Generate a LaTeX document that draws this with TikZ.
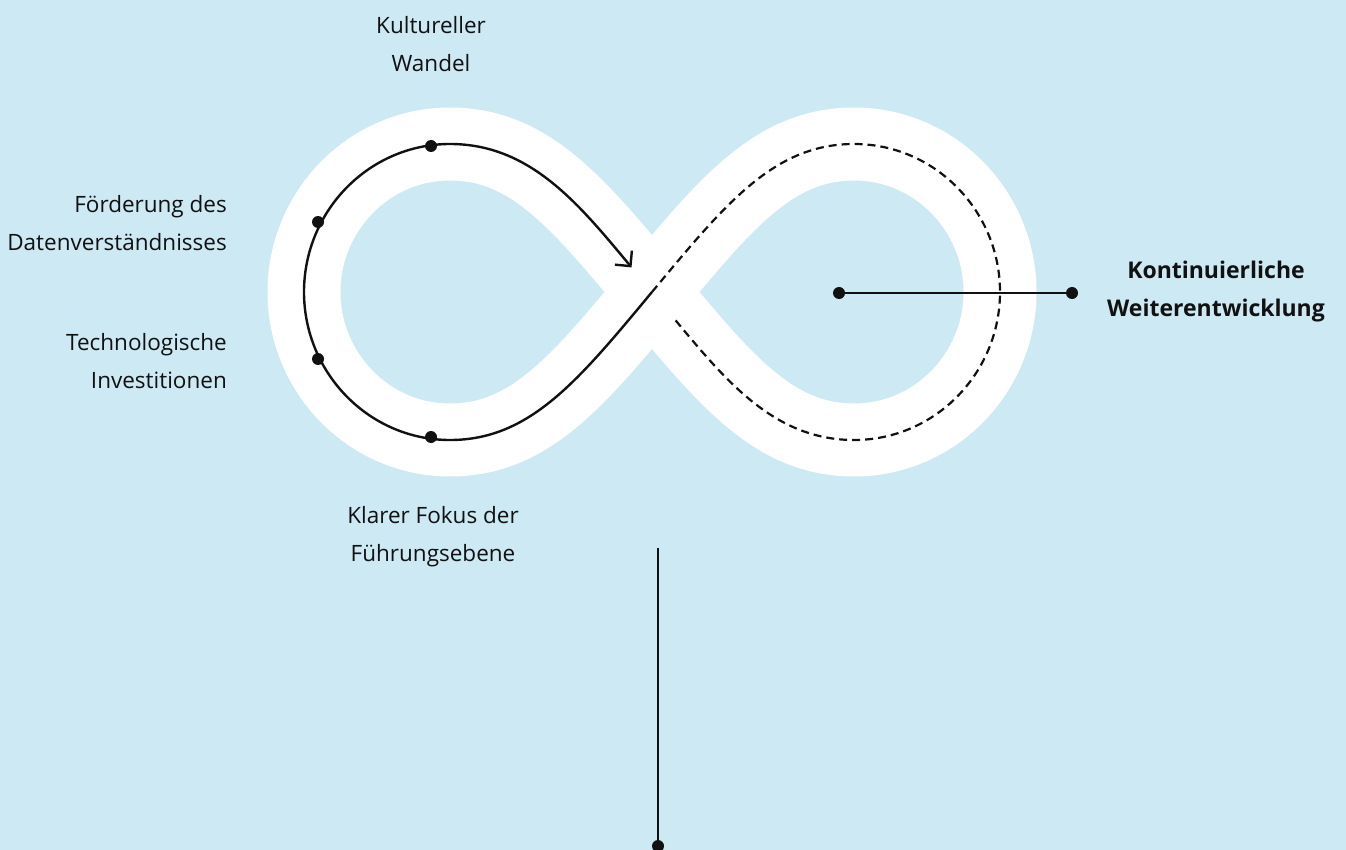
\documentclass[tikz,border=0pt]{standalone}
\usepackage{fontspec}
\setmainfont{Open Sans}
\usetikzlibrary{arrows.meta}
\definecolor{bg}{HTML}{CCE9F4}
\definecolor{ink}{HTML}{111111}
\tikzset{
  dot/.style={circle, fill=ink, inner sep=0pt, minimum size=12pt},
  lbl/.style={text=ink, font=\fontsize{22.5}{38}\selectfont, inner sep=0pt},
  blbl/.style={text=ink, inner sep=0pt, font=\fontsize{23}{38}\selectfont\bfseries},
  band/.style={white, line width=73pt, line join=round},
  track/.style={ink, line width=2.4pt},
  conn/.style={ink, line width=2.6pt}
}
\begin{document}
\begin{tikzpicture}[x=1pt,y=-1pt]
\fill[bg] (0,0) rectangle (1346,850);
\useasboundingbox (0,0) rectangle (1346,850);
\coordinate (C) at (652,292);
\coordinate (LT) at (450,144);
\coordinate (LL) at (304,292);
\coordinate (LB) at (450,440);
\coordinate (RT) at (854,144);
\coordinate (RR) at (1000,292);
\coordinate (RB) at (854,440);
% white band
\draw[band] (C) .. controls (578.4,203.5) and (530,144) .. (LT)
  .. controls (369,144) and (304,211) .. (LL)
  .. controls (304,373) and (369,440) .. (LB)
  .. controls (530,440) and (578.4,380.5) .. (C)
  .. controls (725.6,203.5) and (774,144) .. (RT)
  .. controls (935,144) and (1000,211) .. (RR)
  .. controls (1000,373) and (935,440) .. (RB)
  .. controls (774,440) and (725.6,380.5) .. (C) -- cycle;
% solid track with arrow
\draw[track, -{Straight Barb[length=11pt,width=22pt]}, shorten >=32pt]
  (C) .. controls (578.4,380.5) and (530,440) .. (LB)
      .. controls (369,440) and (304,373) .. (LL)
      .. controls (304,211) and (369,144) .. (LT)
      .. controls (530,144) and (578.4,203.5) .. (C);
% dashed track
\draw[track, line width=2.2pt, dash pattern=on 8pt off 5pt, shorten >=32pt]
  (C) .. controls (725.6,203.5) and (774,144) .. (RT)
      .. controls (935,144) and (1000,211) .. (RR)
      .. controls (1000,373) and (935,440) .. (RB)
      .. controls (774,440) and (725.6,380.5) .. (C);
% dots on left loop
\node[dot] (d1) at (431,146) {};
\node[dot] (d2) at (318,222) {};
\node[dot] (d3) at (318,359) {};
\node[dot] (d4) at (431,437) {};
% right connector
\node[dot] (r1) at (839,293) {};
\node[dot] (r2) at (1072,293) {};
\draw[conn] (r1.center) -- (r2.center);
% bottom connector
\coordinate (b1) at (658,548);
\node[dot] (b2) at (658,846) {};
\draw[conn] (b1) -- (b2.center);
% labels
\node[lbl, align=center] (t1) at (431,44) {Kultureller\\Wandel};
\node[lbl, align=right, anchor=east] (t2) at (227,223) {Förderung des\\Datenverständnisses};
\node[lbl, align=right, anchor=east] (t3) at (227,361) {Technologische\\Investitionen};
\node[lbl, align=center] (t4) at (433,537) {Klarer Fokus der\\Führungsebene};
\node[blbl, align=center] (t5) at (1216,292) {Kontinuierliche\\Weiterentwicklung};
\end{tikzpicture}
\end{document}
